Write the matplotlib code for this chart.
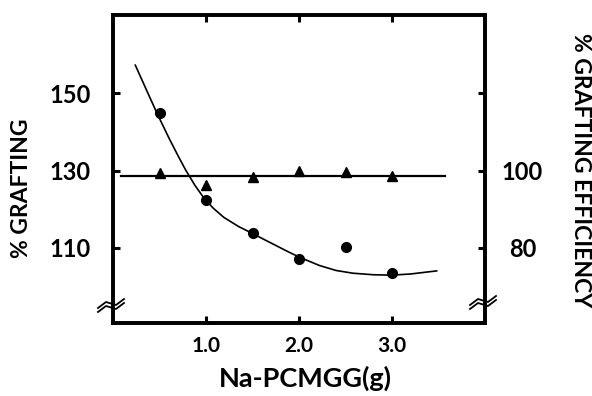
import matplotlib
matplotlib.use("Agg")
import matplotlib.pyplot as plt
from matplotlib.lines import Line2D

# ---- data ----
x_pts = [0.5, 1.0, 1.5, 2.0, 2.5, 3.0]
grafting = [144.9, 122.4, 113.8, 107.1, 110.3, 103.4]          # % grafting (circles, left axis)
efficiency = [99.4, 96.2, 98.3, 99.9, 99.6, 98.6]             # % grafting efficiency (triangles, right axis)

# hand-drawn fitted curve through the grafting points
curve_x = [0.24, 0.35, 0.47, 0.60, 0.70, 0.78, 0.88, 0.98, 1.08, 1.19, 1.35, 1.50,
           1.62, 1.75, 1.88, 2.00, 2.22, 2.40, 2.58, 2.80, 3.00, 3.20, 3.48]
curve_y = [157.3, 151.4, 145.0, 138.5, 133.8, 130.2, 126.2, 122.8, 120.2, 117.9, 115.5, 113.7,
           112.2, 110.6, 109.0, 107.6, 105.4, 104.1, 103.4, 103.0, 102.9, 103.2, 104.0]

# horizontal line for efficiency
eff_line_x = [0.09, 3.57]
eff_line_y = [98.6, 98.6]

x_ticks = [1.0, 2.0, 3.0]
x_ticklabels = ["1.0", "2.0", "3.0"]
left_ticks = [110, 130, 150]
left_ticklabels = ["110", "130", "150"]
right_ticks = [80, 100, 120]
right_ticklabels = ["80", "100", ""]

plt.rcParams['font.family'] = ['Lato', 'DejaVu Sans']
plt.rcParams['font.weight'] = 'bold'

fig = plt.figure(figsize=(5.92, 3.96), dpi=100)
ax = fig.add_axes([113/592, 1-323/396, 372/592, 308/396])

ylo, yhi = 90.5, 170.3
ax.set_xlim(0, 4.0)
ax.set_ylim(ylo, yhi)

ax.plot(curve_x, curve_y, color='black', lw=1.2, zorder=3)
ax.plot(x_pts, grafting, 'o', color='black', ms=7, zorder=4)

ax.set_xticks(x_ticks)
ax.set_xticklabels(x_ticklabels, fontsize=15)
ax.set_yticks(left_ticks)
ax.set_yticklabels(left_ticklabels, fontsize=17)
ax.tick_params(axis='both', direction='in', length=5, width=2.2, top=True, right=False)
ax.tick_params(axis='x', pad=9)
ax.tick_params(axis='y', pad=16)

for s in ax.spines.values():
    s.set_linewidth(2.6)

ax2 = ax.twinx()
ax2.set_ylim(ylo - 30, yhi - 30)
ax2.plot(eff_line_x, eff_line_y, color='black', lw=1.6, zorder=3)
ax2.plot(x_pts, efficiency, '^', color='black', ms=7.5, zorder=4)
ax2.set_yticks(right_ticks)
ax2.set_yticklabels(right_ticklabels, fontsize=17)
ax2.tick_params(axis='y', direction='in', length=5, width=2.2, pad=27)
for lab in ax2.get_yticklabels():
    lab.set_horizontalalignment('center')
for s in ax2.spines.values():
    s.set_linewidth(2.6)

# axis-break marks
W, H = 372.0, 308.0
shape = [(-15, -3), (-7, 3), (3, 0), (11, 6)]
for (cx, cy) in [(0.0, 18/308), (1.0, 21/308)]:
    for off in (0, -4):
        xs = [cx + dx / W for dx, dy in shape]
        ys = [cy + (dy + off) / H for dx, dy in shape]
        ax.add_line(Line2D(xs, ys, transform=ax.transAxes, color='black',
                           lw=1.3, clip_on=False, zorder=6))

fig.text(22/592, 1-188/396, "% GRAFTING", rotation=90, ha='center', va='center', fontsize=16.5)
fig.text(580/592, 1-170/396, "% GRAFTING EFFICIENCY", rotation=-90, ha='center', va='center', fontsize=16.5)
fig.text(305/592, 1-387/396, "Na-PCMGG(g)", ha='center', va='baseline', fontsize=19.5)

fig.savefig("out.png", dpi=100)
